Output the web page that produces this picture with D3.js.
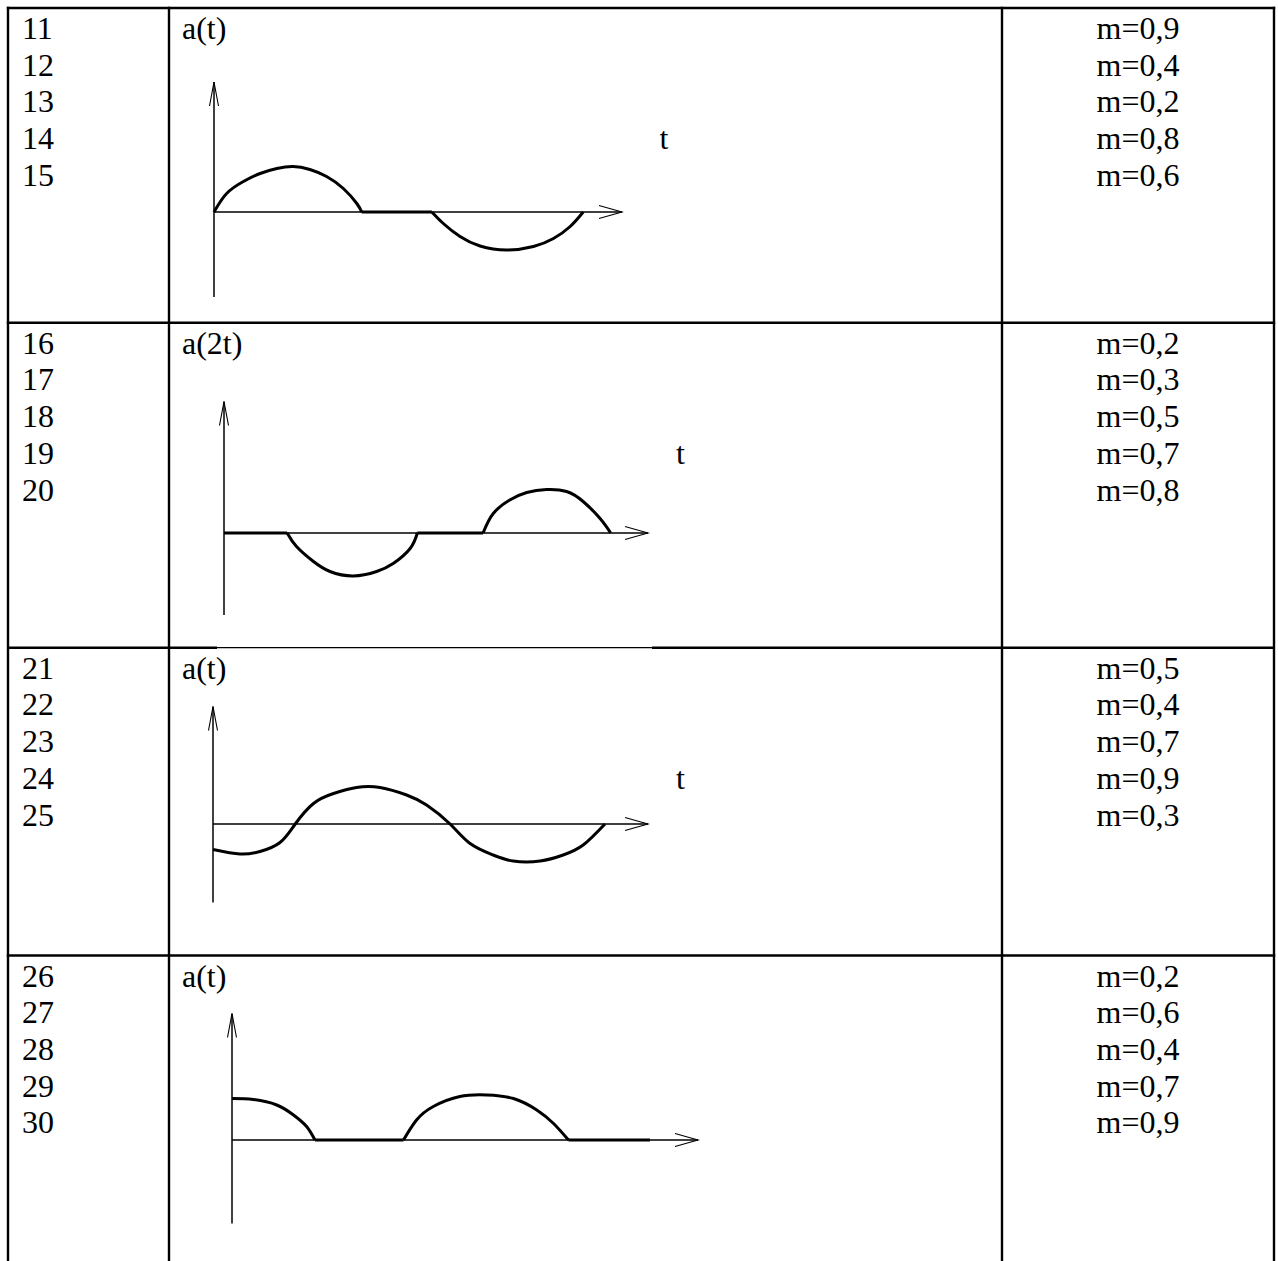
<!DOCTYPE html>
<html>
<head>
<meta charset="utf-8">
<script src="https://cdn.jsdelivr.net/npm/d3@7"></script>
<style>
  body { margin: 0; background: #fff; }
  svg { display: block; }
  text { font-family: "Liberation Serif", "Times New Roman", serif; font-size: 32px; fill: #000; }
</style>
</head>
<body>
<div id="table"></div>
<script>
// Table contents
const variantNumbers = [
  ["11", "12", "13", "14", "15"],
  ["16", "17", "18", "19", "20"],
  ["21", "22", "23", "24", "25"],
  ["26", "27", "28", "29", "30"]
];
const signalNames = ["a(t)", "a(2t)", "a(t)", "a(t)"];
const depthValues = [
  ["m=0,9", "m=0,4", "m=0,2", "m=0,8", "m=0,6"],
  ["m=0,2", "m=0,3", "m=0,5", "m=0,7", "m=0,8"],
  ["m=0,5", "m=0,4", "m=0,7", "m=0,9", "m=0,3"],
  ["m=0,2", "m=0,6", "m=0,4", "m=0,7", "m=0,9"]
];
const timeLabels = ["t", "t", "t", ""];

// Signal shapes, points are [t, a]
const arches1 = [
  [[0, 0], [0.31, 0.37], [0.72, 0.61], [1.13, 0.77], [1.54, 0.87], [1.94, 0.91], [2.35, 0.85], [2.76, 0.71], [3.17, 0.47], [3.50, 0.17], [3.62, 0]],
  [[5.34, 0], [5.62, -0.23], [6.03, -0.49], [6.52, -0.68], [7.17, -0.76], [7.83, -0.69], [8.32, -0.53], [8.73, -0.29], [9.05, 0]]
];
const flats1 = [[3.62, 5.34]];

const arches2 = [
  [[1.49, 0], [1.71, -0.27], [2.11, -0.57], [2.50, -0.77], [3.05, -0.86], [3.60, -0.77], [3.99, -0.61], [4.39, -0.31], [4.56, 0]],
  [[6.11, 0], [6.35, 0.39], [6.74, 0.66], [7.14, 0.81], [7.61, 0.87], [8.08, 0.83], [8.47, 0.63], [8.87, 0.29], [9.12, 0]]
];
const flats2 = [[0, 1.49], [4.56, 6.11]];

const arches3 = [
  [[0, -0.51], [0.62, -0.60], [1.08, -0.55], [1.54, -0.37], [1.89, 0], [2.31, 0.41], [2.77, 0.61], [3.30, 0.73], [3.84, 0.73],
   [4.45, 0.58], [4.91, 0.38], [5.45, 0], [5.91, -0.39], [6.44, -0.62], [6.90, -0.74], [7.52, -0.74], [8.05, -0.62], [8.51, -0.42], [9.01, 0]]
];
const flats3 = [];

const arches4 = [
  [[0, 0.83], [0.46, 0.81], [0.96, 0.70], [1.32, 0.50], [1.60, 0.27], [1.78, 0]],
  [[3.68, 0], [3.96, 0.40], [4.32, 0.67], [4.89, 0.87], [5.47, 0.90], [6.04, 0.83], [6.54, 0.60], [6.90, 0.33], [7.22, 0]]
];
const flats4 = [[1.78, 3.68], [7.22, 8.97]];

const archesByRow = [arches1, arches2, arches3, arches4];
const flatsByRow = [flats1, flats2, flats3, flats4];

/*******************************/
/*         Layout              */
/*******************************/
const width = 1278;
const height = 1261;
const colX = [8, 169, 1002, 1274];
const rowY = [8, 322.7, 647.7, 955.5];
const firstBaseline = 31;
const lineStep = 36.7;

// origin, axis length and vertical axis extents of each drawing
const panels = [
  { x0: 214, y0: 212, len: 408, aTop: 2.6, aBottom: -1.7, tX: 659.5 },
  { x0: 224, y0: 533, len: 424, aTop: 2.63, aBottom: -1.64, tX: 676 },
  { x0: 213, y0: 824, len: 435, aTop: 2.35, aBottom: -1.57, tX: 676 },
  { x0: 232, y0: 1140, len: 466, aTop: 2.53, aBottom: -1.67, tX: 676 }
];

const svg = d3.select("#table")
  .append("svg")
    .attr("width", width)
    .attr("height", height)
    .attr("viewBox", `0, 0, ${width}, ${height}`);

/*******************************/
/*       Table borders         */
/*******************************/
const borders = svg.append("g")
  .attr("stroke", "#000")
  .attr("stroke-width", 2.4);

colX.forEach(x => {
  borders.append("line")
    .attr("x1", x).attr("x2", x)
    .attr("y1", rowY[0] - 1.2).attr("y2", height);
});
rowY.forEach((y, i) => {
  if (i === 2) {
    // the picture in the second row partly hides this border
    borders.append("line").attr("x1", colX[0]).attr("x2", 217).attr("y1", y).attr("y2", y);
    borders.append("line").attr("x1", 217).attr("x2", 652).attr("y1", y).attr("y2", y).attr("stroke-width", 1.2);
    borders.append("line").attr("x1", 652).attr("x2", colX[3]).attr("y1", y).attr("y2", y);
  } else {
    borders.append("line")
      .attr("x1", colX[0] - 1.2).attr("x2", colX[3] + 1.2)
      .attr("y1", y).attr("y2", y);
  }
});

/*******************************/
/*          Texts              */
/*******************************/
rowY.forEach((y, i) => {
  const row = svg.append("g");

  row.selectAll(".num")
    .data(variantNumbers[i])
    .join("text")
      .attr("class", "num")
      .attr("x", 22)
      .attr("y", (d, j) => y + firstBaseline + j * lineStep)
      .text(d => d);

  row.append("text")
    .attr("x", 182)
    .attr("y", y + firstBaseline)
    .text(signalNames[i]);

  row.selectAll(".m")
    .data(depthValues[i])
    .join("text")
      .attr("class", "m")
      .attr("x", (colX[2] + colX[3]) / 2)
      .attr("y", (d, j) => y + firstBaseline + j * lineStep)
      .attr("text-anchor", "middle")
      .text(d => d);

  if (timeLabels[i]) {
    row.append("text")
      .attr("x", panels[i].tX)
      .attr("y", y + firstBaseline + 3 * lineStep)
      .text(timeLabels[i]);
  }
});

/*******************************/
/*        Drawings             */
/*******************************/
panels.forEach((p, i) => {
  const xScale = d3.scaleLinear()
    .domain([0, 10])
    .range([p.x0, p.x0 + p.len]);
  const yScale = d3.scaleLinear()
    .domain([-1, 1])
    .range([p.y0 + 50, p.y0 - 50]);

  const g = svg.append("g");

  // axes
  const axes = g.append("g")
    .attr("stroke", "#000")
    .attr("stroke-width", 1.5)
    .attr("fill", "none");
  axes.append("line")
    .attr("x1", xScale(0)).attr("x2", xScale(0))
    .attr("y1", yScale(p.aBottom)).attr("y2", yScale(p.aTop));
  axes.append("line")
    .attr("x1", xScale(0)).attr("x2", xScale(10))
    .attr("y1", yScale(0)).attr("y2", yScale(0));

  // open arrow heads
  const tipX = xScale(10), tipY = yScale(p.aTop);
  axes.append("path")
    .attr("stroke-width", 1.1)
    .attr("d", `M${tipX - 23},${yScale(0) - 6.5}L${tipX},${yScale(0)}L${tipX - 23},${yScale(0) + 6.5}`);
  axes.append("path")
    .attr("stroke-width", 1.1)
    .attr("d", `M${xScale(0) - 4.5},${tipY + 24}L${xScale(0)},${tipY}L${xScale(0) + 4.5},${tipY + 24}`);

  // signal
  const line = d3.line()
    .x(d => xScale(d[0]))
    .y(d => yScale(d[1]))
    .curve(d3.curveNatural);

  g.selectAll(".arch")
    .data(archesByRow[i])
    .join("path")
      .attr("class", "arch")
      .attr("d", line)
      .attr("fill", "none")
      .attr("stroke", "#000")
      .attr("stroke-width", 3);

  g.selectAll(".flat")
    .data(flatsByRow[i])
    .join("line")
      .attr("class", "flat")
      .attr("x1", d => xScale(d[0]))
      .attr("x2", d => xScale(d[1]))
      .attr("y1", yScale(0))
      .attr("y2", yScale(0))
      .attr("stroke", "#000")
      .attr("stroke-width", 3);
});
</script>
</body>
</html>
